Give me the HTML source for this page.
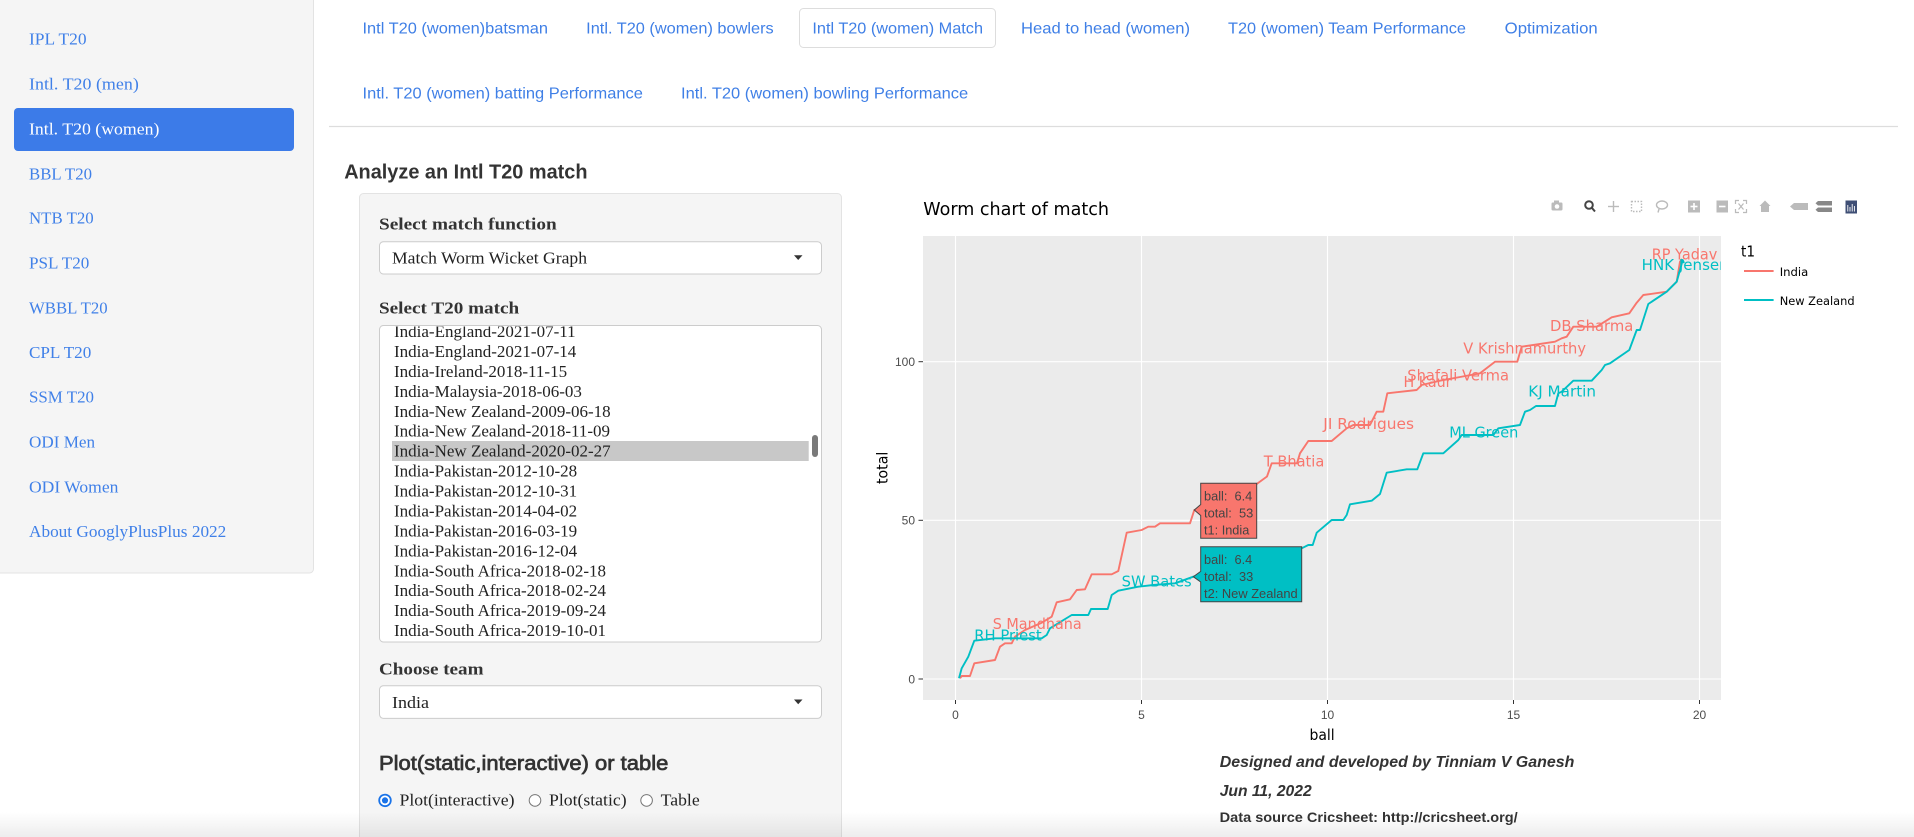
<!DOCTYPE html>
<html><head><meta charset="utf-8">
<style>
html,body{margin:0;padding:0;background:#fff;}
body{width:1914px;height:837px;overflow:hidden;}
svg{display:block}
.nav{font-family:"Liberation Serif",serif;font-size:17px;fill:#4080e8}
.tab{font-family:"Liberation Sans",sans-serif;font-size:16px;fill:#3f7fe6}
.lbl{font-family:"Liberation Serif",serif;font-size:17px;font-weight:bold;fill:#333}
.opt{font-family:"Liberation Serif",serif;font-size:17px;fill:#222}
.pl{font-family:"DejaVu Sans",sans-serif;font-size:14.67px}
.tick{font-family:"Liberation Sans",sans-serif;font-size:12px;fill:#4d4d4d}
.hov{font-family:"Liberation Sans",sans-serif;font-size:13px;fill:#444;white-space:pre}
.foot{font-family:"Liberation Sans",sans-serif;fill:#333;font-weight:bold}
</style></head><body>
<svg width="1914" height="837" viewBox="0 0 1914 837" xmlns="http://www.w3.org/2000/svg">
<defs>
<clipPath id="plotclip"><rect x="923" y="236" width="798" height="464"/></clipPath>
<clipPath id="listclip"><rect x="380" y="326.5" width="440" height="315"/></clipPath>
<linearGradient id="bshade" x1="0" y1="0" x2="0" y2="1">
<stop offset="0" stop-color="#000" stop-opacity="0"/>
<stop offset="1" stop-color="#000" stop-opacity="0.07"/>
</linearGradient>
</defs>

<!-- Sidebar -->
<path d="M0,0 H313.5 V569 a4,4 0 0 1 -4,4 H0 Z" fill="#f5f5f5"/>
<path d="M313.5,0 V569 a4,4 0 0 1 -4,4 H0" fill="none" stroke="#e3e3e3" stroke-width="1"/>
<rect x="14" y="108" width="280" height="43" rx="4" fill="#3c7be8"/>
<text class="nav" x="29" y="44.3" textLength="57.6" lengthAdjust="spacingAndGlyphs">IPL T20</text>
<text class="nav" x="29" y="89.3" textLength="109.8" lengthAdjust="spacingAndGlyphs">Intl. T20 (men)</text>
<text class="nav" x="29" y="134.7" textLength="130.4" lengthAdjust="spacingAndGlyphs" style="fill:#fff">Intl. T20 (women)</text>
<text class="nav" x="29" y="179.3" textLength="63" lengthAdjust="spacingAndGlyphs">BBL T20</text>
<text class="nav" x="29" y="223.3" textLength="64.7" lengthAdjust="spacingAndGlyphs">NTB T20</text>
<text class="nav" x="29" y="268.3" textLength="60.3" lengthAdjust="spacingAndGlyphs">PSL T20</text>
<text class="nav" x="29" y="313.3" textLength="78.6" lengthAdjust="spacingAndGlyphs">WBBL T20</text>
<text class="nav" x="29" y="358" textLength="62.3" lengthAdjust="spacingAndGlyphs">CPL T20</text>
<text class="nav" x="29" y="402.7" textLength="65" lengthAdjust="spacingAndGlyphs">SSM T20</text>
<text class="nav" x="29" y="447.5" textLength="66.1" lengthAdjust="spacingAndGlyphs">ODI Men</text>
<text class="nav" x="29" y="492.3" textLength="89.4" lengthAdjust="spacingAndGlyphs">ODI Women</text>
<text class="nav" x="29" y="537.2" textLength="197.3" lengthAdjust="spacingAndGlyphs">About GooglyPlusPlus 2022</text>

<!-- Tabs -->
<rect x="799.5" y="8.5" width="196" height="39" rx="4" fill="#fff" stroke="#dddddd"/>
<text class="tab" x="362.5" y="33.3" textLength="185.5" lengthAdjust="spacingAndGlyphs">Intl T20 (women)batsman</text>
<text class="tab" x="586.2" y="33.3" textLength="187.5" lengthAdjust="spacingAndGlyphs">Intl. T20 (women) bowlers</text>
<text class="tab" x="812.4" y="33.3" textLength="170.6" lengthAdjust="spacingAndGlyphs">Intl T20 (women) Match</text>
<text class="tab" x="1021" y="33.3" textLength="169" lengthAdjust="spacingAndGlyphs">Head to head (women)</text>
<text class="tab" x="1228" y="33.3" textLength="238" lengthAdjust="spacingAndGlyphs">T20 (women) Team Performance</text>
<text class="tab" x="1504.7" y="33.3" textLength="93" lengthAdjust="spacingAndGlyphs">Optimization</text>
<text class="tab" x="362.5" y="98.7" textLength="280.4" lengthAdjust="spacingAndGlyphs">Intl. T20 (women) batting Performance</text>
<text class="tab" x="681" y="98.7" textLength="287.2" lengthAdjust="spacingAndGlyphs">Intl. T20 (women) bowling Performance</text>
<line x1="329" y1="126.5" x2="1898" y2="126.5" stroke="#dddddd" stroke-width="1.2"/>

<!-- Heading -->
<text x="344.2" y="178.3" textLength="243.3" lengthAdjust="spacingAndGlyphs" style="font-family:'Liberation Sans',sans-serif;font-size:20px;font-weight:bold;fill:#333">Analyze an Intl T20 match</text>

<!-- Well -->
<path d="M359.5,837 V197.5 a4,4 0 0 1 4,-4 H837.5 a4,4 0 0 1 4,4 V837 Z" fill="#f5f5f5"/>
<path d="M359.5,837 V197.5 a4,4 0 0 1 4,-4 H837.5 a4,4 0 0 1 4,4 V837" fill="none" stroke="#e3e3e3"/>
<text class="lbl" x="379" y="229.3" textLength="177.7" lengthAdjust="spacingAndGlyphs">Select match function</text>
<rect x="379.5" y="241.7" width="442" height="32.3" rx="4" fill="#fff" stroke="#cccccc"/>
<text class="opt" x="392" y="263.3" textLength="195" lengthAdjust="spacingAndGlyphs">Match Worm Wicket Graph</text>
<polygon points="794,255.3 802.5,255.3 798.2,260" fill="#333"/>

<text class="lbl" x="379" y="313.7" textLength="140.2" lengthAdjust="spacingAndGlyphs">Select T20 match</text>
<rect x="379.5" y="325.5" width="442" height="316.5" rx="4" fill="#fff" stroke="#cccccc"/>
<g clip-path="url(#listclip)">
<rect x="392" y="441" width="416.7" height="20" fill="#c8c8c8"/>
<text class="opt" x="394" y="337">India-England-2021-07-11</text>
<text class="opt" x="394" y="356.9">India-England-2021-07-14</text>
<text class="opt" x="394" y="376.9">India-Ireland-2018-11-15</text>
<text class="opt" x="394" y="396.8">India-Malaysia-2018-06-03</text>
<text class="opt" x="394" y="416.8">India-New Zealand-2009-06-18</text>
<text class="opt" x="394" y="436.7">India-New Zealand-2018-11-09</text>
<text class="opt" x="394" y="456.6">India-New Zealand-2020-02-27</text>
<text class="opt" x="394" y="476.6">India-Pakistan-2012-10-28</text>
<text class="opt" x="394" y="496.5">India-Pakistan-2012-10-31</text>
<text class="opt" x="394" y="516.5">India-Pakistan-2014-04-02</text>
<text class="opt" x="394" y="536.4">India-Pakistan-2016-03-19</text>
<text class="opt" x="394" y="556.3">India-Pakistan-2016-12-04</text>
<text class="opt" x="394" y="576.3">India-South Africa-2018-02-18</text>
<text class="opt" x="394" y="596.2">India-South Africa-2018-02-24</text>
<text class="opt" x="394" y="616.2">India-South Africa-2019-09-24</text>
<text class="opt" x="394" y="636.1">India-South Africa-2019-10-01</text>
</g>
<rect x="812" y="435" width="6" height="22" rx="3" fill="#7a7a7a"/>

<text class="lbl" x="379" y="674.3" textLength="104.5" lengthAdjust="spacingAndGlyphs">Choose team</text>
<rect x="379.5" y="685.7" width="442" height="32.7" rx="4" fill="#fff" stroke="#cccccc"/>
<text class="opt" x="392" y="708" textLength="37" lengthAdjust="spacingAndGlyphs">India</text>
<polygon points="794,699.5 802.5,699.5 798.2,704.2" fill="#333"/>

<text x="379" y="770.2" textLength="289.3" lengthAdjust="spacingAndGlyphs" style="font-family:'Liberation Sans',sans-serif;font-size:20px;fill:#333;stroke:#333;stroke-width:0.7">Plot(static,interactive) or table</text>

<circle cx="385" cy="800.4" r="5.8" fill="#fff" stroke="#1a73e8" stroke-width="1.8"/>
<circle cx="385" cy="800.4" r="3.1" fill="#1a73e8"/>
<text class="opt" x="399.5" y="805.5" textLength="115" lengthAdjust="spacingAndGlyphs">Plot(interactive)</text>
<circle cx="535" cy="800.4" r="5.8" fill="#fff" stroke="#767676" stroke-width="1"/>
<text class="opt" x="549" y="805.5" textLength="77.6" lengthAdjust="spacingAndGlyphs">Plot(static)</text>
<circle cx="646.6" cy="800.4" r="5.8" fill="#fff" stroke="#767676" stroke-width="1"/>
<text class="opt" x="660.7" y="805.5" textLength="39" lengthAdjust="spacingAndGlyphs">Table</text>

<!-- Chart title -->
<text class="pl" x="923.3" y="215" textLength="185.7" lengthAdjust="spacingAndGlyphs" style="font-size:17.6px;fill:#000">Worm chart of match</text>

<!-- Modebar -->
<g fill="#bbbbbb" stroke="none">
  <rect x="1551.5" y="202.5" width="11" height="8" rx="1.2"/>
  <rect x="1554" y="200.5" width="5" height="3"/>
  <circle cx="1557" cy="206.5" r="2.3" fill="#fff"/>
</g>
<g fill="none" stroke="#444" stroke-width="2">
  <circle cx="1589" cy="205" r="3.8"/>
  <line x1="1591.8" y1="207.8" x2="1595" y2="211.5"/>
</g>
<g stroke="#bbbbbb" stroke-width="1.4" fill="none">
  <line x1="1608" y1="206.5" x2="1619" y2="206.5"/>
  <line x1="1613.5" y1="201" x2="1613.5" y2="212"/>
  <rect x="1631.5" y="201.5" width="10" height="10" stroke-dasharray="1.5,1.5"/>
  <ellipse cx="1662" cy="205" rx="5.5" ry="4"/>
  <line x1="1659" y1="209" x2="1658" y2="212.5"/>
</g>
<g fill="#bbbbbb">
  <rect x="1688" y="200.5" width="12" height="12"/>
  <rect x="1716.5" y="200.5" width="11.5" height="12"/>
</g>
<g stroke="#fff" stroke-width="1.6">
  <line x1="1690.5" y1="206.5" x2="1697.5" y2="206.5"/>
  <line x1="1694" y1="203" x2="1694" y2="210"/>
  <line x1="1719" y1="206.5" x2="1725.5" y2="206.5"/>
</g>
<g stroke="#bbbbbb" stroke-width="1.2" fill="none">
  <path d="M1735.5,204 V200.5 H1739 M1743,200.5 H1746.5 V204 M1746.5,209 V212.5 H1743 M1739,212.5 H1735.5 V209"/>
  <path d="M1738.5,203.5 L1743.5,209.5 M1743.5,203.5 L1738.5,209.5"/>
</g>
<path d="M1765,200.5 L1759.5,206 H1761 V212 H1769 V206 H1770.5 Z" fill="#bbbbbb"/>
<path d="M1790,206.5 L1794,203 H1808 V210 H1794 Z" fill="#bbbbbb"/>
<g fill="#888888">
  <path d="M1818,201 H1832 V205.5 H1818 L1815.5,203.2 Z"/>
  <path d="M1818,207.5 H1832 V212 H1818 L1815.5,209.8 Z"/>
</g>
<rect x="1845.5" y="200.5" width="11.5" height="13" fill="#3f4f75"/>
<g stroke="#fff" stroke-width="0.9">
  <line x1="1847.8" y1="205" x2="1847.8" y2="211.5"/>
  <line x1="1850" y1="207" x2="1850" y2="211.5"/>
  <line x1="1852.2" y1="204" x2="1852.2" y2="211.5"/>
  <line x1="1854.4" y1="206" x2="1854.4" y2="211.5"/>
</g>

<!-- Plot panel -->
<rect x="923" y="236" width="798" height="464" fill="#ebebeb"/>
<g stroke="#fff" stroke-width="1.1">
  <line x1="955.5" y1="236" x2="955.5" y2="700"/>
  <line x1="1141.5" y1="236" x2="1141.5" y2="700"/>
  <line x1="1327.5" y1="236" x2="1327.5" y2="700"/>
  <line x1="1513.5" y1="236" x2="1513.5" y2="700"/>
  <line x1="1699.5" y1="236" x2="1699.5" y2="700"/>
  <line x1="923" y1="679" x2="1721" y2="679"/>
  <line x1="923" y1="520.3" x2="1721" y2="520.3"/>
  <line x1="923" y1="361.7" x2="1721" y2="361.7"/>
</g>

<g clip-path="url(#plotclip)">
<polyline fill="none" stroke="#F8766D" stroke-width="1.9" stroke-linejoin="round" points="960,678.3 961.7,676 970,676 974.3,663.3 995,660 1000,646.7 1005,643.3 1011.7,643.3 1015,636.7 1025,630 1041.7,622.7 1051.7,616.7 1056.7,602.3 1070,599.3 1076.7,590 1085,589.3 1091.7,574.3 1111.7,574.3 1118.3,571 1126.7,532.7 1141.7,530 1148.3,526.7 1155,526.7 1160,523.3 1190,523.3 1194.3,510 1230,500 1256.7,484 1267,476.5 1271.7,463.3 1297,463.3 1300,453.3 1308.3,441 1331.7,441 1346.7,428.3 1353.3,425 1370,425 1376.7,411.7 1383.3,411.7 1387.3,393.3 1416.7,390 1421.7,385 1440,380.7 1460,377 1480,373.3 1495,361.7 1517.3,361.7 1521.7,346.7 1555,341.7 1561.7,338.3 1566.7,336.7 1573.3,326.7 1596.7,326.7 1611.7,317.3 1629.3,313.3 1636.7,302.7 1643.3,295 1666.7,291.7 1676.7,281.7 1680,261.7 1682,259"/>
<polyline fill="none" stroke="#00BFC4" stroke-width="1.9" stroke-linejoin="round" points="959,678.3 961.7,668.3 968.3,656.7 974.3,640.7 995,638.3 1041.7,638.3 1046.7,635 1050,628.3 1071.7,615 1088.3,615 1091,609 1107.7,609 1111.7,595 1118.3,590.7 1138.3,586.7 1153.3,585 1175,583.3 1193.3,576.7 1250,560 1301.7,548.3 1308.3,545 1312.7,545 1316.7,532.7 1331.7,520 1343.3,520 1346.7,515 1350,504.3 1371.7,500.7 1380,494 1386.7,472.7 1406.7,469.3 1417.3,469.3 1423.3,453.3 1443.3,453.3 1458.3,440 1461.7,435 1493.3,435 1498.3,428.3 1520,425 1525,411.7 1530,410 1536,406 1555,406 1558.3,393.3 1561.7,391.7 1573.3,380.7 1591.7,380.7 1601.7,370 1605,365 1610,363.3 1629.3,350 1636.7,330 1640,330 1648.3,304 1666.7,291.7 1676.7,281.7 1680,270 1682.7,260 1684,263"/>

<g class="pl" style="fill:#F8766D">
<text x="992.7" y="629" textLength="89" lengthAdjust="spacingAndGlyphs">S Mandhana</text>
<text x="1263.8" y="466.7" textLength="60.5" lengthAdjust="spacingAndGlyphs">T Bhatia</text>
<text x="1323.3" y="429" textLength="90.7" lengthAdjust="spacingAndGlyphs">JI Rodrigues</text>
<text x="1403.5" y="387" textLength="48" lengthAdjust="spacingAndGlyphs">H Kaur</text>
<text x="1407.3" y="380.3" textLength="101.7" lengthAdjust="spacingAndGlyphs">Shafali Verma</text>
<text x="1463.3" y="353.3" textLength="122.7" lengthAdjust="spacingAndGlyphs">V Krishnamurthy</text>
<text x="1550" y="331" textLength="83.3" lengthAdjust="spacingAndGlyphs">DB Sharma</text>
<text x="1651.7" y="259.3" textLength="65.6" lengthAdjust="spacingAndGlyphs">RP Yadav</text>
</g>
<g class="pl" style="fill:#00BFC4">
<text x="974.3" y="640.7" textLength="67.4" lengthAdjust="spacingAndGlyphs">RH Priest</text>
<text x="1121.7" y="586.7" textLength="70" lengthAdjust="spacingAndGlyphs">SW Bates</text>
<text x="1449.3" y="437.7" textLength="69" lengthAdjust="spacingAndGlyphs">ML Green</text>
<text x="1528.3" y="396.7" textLength="67.7" lengthAdjust="spacingAndGlyphs">KJ Martin</text>
<text x="1641.7" y="270" textLength="87" lengthAdjust="spacingAndGlyphs">HNK Jensen</text>
</g>
</g>

<!-- Tooltips -->
<path d="M1200.7,483.3 H1256.7 V538.3 H1200.7 V515.5 L1194.3,510 L1200.7,504.5 Z" fill="#F8766D" stroke="#444" stroke-width="1"/>
<text class="hov" x="1204" y="500.5" textLength="48.3" lengthAdjust="spacingAndGlyphs">ball:  6.4</text>
<text class="hov" x="1204" y="517.5" textLength="49.3" lengthAdjust="spacingAndGlyphs">total:  53</text>
<text class="hov" x="1204" y="534.5" textLength="45.3" lengthAdjust="spacingAndGlyphs">t1: India</text>
<path d="M1200.7,546.7 H1301.7 V601.7 H1200.7 V582 L1193.3,576.7 L1200.7,571.4 Z" fill="#00BFC4" stroke="#444" stroke-width="1"/>
<text class="hov" x="1204" y="564" textLength="48.3" lengthAdjust="spacingAndGlyphs">ball:  6.4</text>
<text class="hov" x="1204" y="581" textLength="49.3" lengthAdjust="spacingAndGlyphs">total:  33</text>
<text class="hov" x="1204" y="598" textLength="93.7" lengthAdjust="spacingAndGlyphs">t2: New Zealand</text>

<!-- Axes ticks -->
<g stroke="#333" stroke-width="1">
  <line x1="918.5" y1="679" x2="923" y2="679"/>
  <line x1="918.5" y1="520.3" x2="923" y2="520.3"/>
  <line x1="918.5" y1="361.7" x2="923" y2="361.7"/>
  <line x1="955.5" y1="700" x2="955.5" y2="704"/>
  <line x1="1141.5" y1="700" x2="1141.5" y2="704"/>
  <line x1="1327.5" y1="700" x2="1327.5" y2="704"/>
  <line x1="1513.5" y1="700" x2="1513.5" y2="704"/>
  <line x1="1699.5" y1="700" x2="1699.5" y2="704"/>
</g>
<g class="tick" text-anchor="end">
  <text x="915" y="683.3">0</text>
  <text x="915" y="524.6">50</text>
  <text x="915" y="366">100</text>
</g>
<g class="tick" text-anchor="middle">
  <text x="955.5" y="719">0</text>
  <text x="1141.5" y="719">5</text>
  <text x="1327.5" y="719">10</text>
  <text x="1513.5" y="719">15</text>
  <text x="1699.5" y="719">20</text>
</g>
<text class="pl" x="1309.5" y="740" textLength="25.2" lengthAdjust="spacingAndGlyphs" style="fill:#000">ball</text>
<text class="pl" transform="translate(887.5,484) rotate(-90)" x="0" y="0" textLength="32.3" lengthAdjust="spacingAndGlyphs" style="fill:#000">total</text>

<!-- Legend -->
<text class="pl" x="1741" y="256.7" textLength="14" lengthAdjust="spacingAndGlyphs" style="fill:#000">t1</text>
<line x1="1744" y1="271" x2="1773.6" y2="271" stroke="#F8766D" stroke-width="1.9"/>
<text class="pl" x="1779.7" y="276" textLength="28.6" lengthAdjust="spacingAndGlyphs" style="font-size:11.73px;fill:#000">India</text>
<line x1="1744" y1="300" x2="1773.6" y2="300" stroke="#00BFC4" stroke-width="1.9"/>
<text class="pl" x="1779.7" y="304.8" textLength="74.9" lengthAdjust="spacingAndGlyphs" style="font-size:11.73px;fill:#000">New Zealand</text>

<!-- Footer -->
<text class="foot" x="1219.7" y="767" textLength="354.7" lengthAdjust="spacingAndGlyphs" style="font-size:16px;font-style:italic">Designed and developed by Tinniam V Ganesh</text>
<text class="foot" x="1219.7" y="796" textLength="92" lengthAdjust="spacingAndGlyphs" style="font-size:16px;font-style:italic">Jun 11, 2022</text>
<text class="foot" x="1219.7" y="822" textLength="298" lengthAdjust="spacingAndGlyphs" style="font-size:14px">Data source Cricsheet: http://cricsheet.org/</text>

<!-- bottom shade -->
<rect x="0" y="812" width="1914" height="25" fill="url(#bshade)"/>
</svg>
</body></html>
